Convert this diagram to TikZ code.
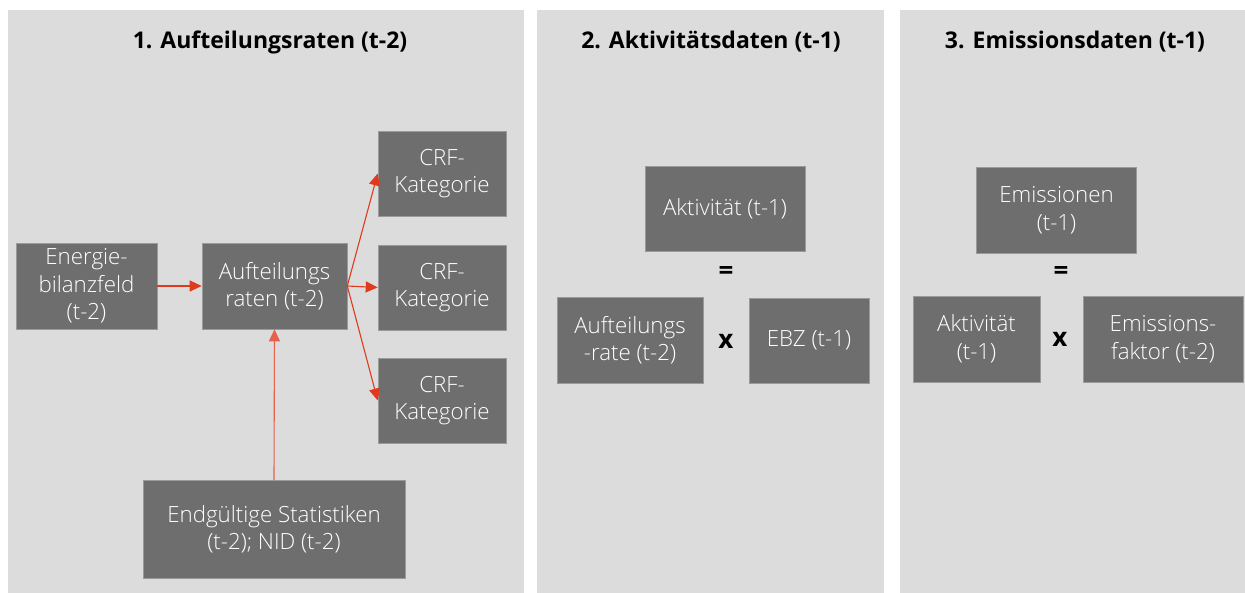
\documentclass[tikz,border=0pt]{standalone}
\usepackage{fontspec}
\setmainfont{Open Sans}[UprightFont=* Light, BoldFont=* Bold]
\usetikzlibrary{arrows.meta}
\definecolor{panelbg}{HTML}{DCDCDC}
\definecolor{boxfill}{HTML}{6E6E6E}
\definecolor{boxedge}{HTML}{9A9A9A}
\definecolor{arrred}{HTML}{E03A1E}
\tikzset{
  panel/.style={fill=panelbg, draw=none},
  gbox/.style={fill=boxfill, draw=boxedge, line width=0.6pt, text=white, align=center, inner sep=0pt,
    font=\fontsize{22.3}{27.5}\selectfont},
  ptitle/.style={font=\fontsize{23}{26}\selectfont\bfseries, text=black},
  opsym/.style={font=\fontsize{26}{27}\selectfont\bfseries, text=black},
  conn/.style={draw=arrred, line width=1.1pt, -{Triangle[length=12pt,width=11pt]}},
}
\begin{document}
\begin{tikzpicture}[x=1pt,y=-1pt]
\useasboundingbox (0,0) rectangle (1245,593);
\fill[white] (0,0) rectangle (1245,593);
% panels
\fill[panel] (8,10) rectangle (524,593);
\fill[panel] (537,10) rectangle (884,593);
\fill[panel] (900,10) rectangle (1245,593);
% titles
\node[ptitle] (t1) at (270,42) {1. Aufteilungsraten (t-2)};
\node[ptitle] (t2) at (711,42) {2. Aktivitätsdaten (t-1)};
\node[ptitle] (t3) at (1075,42) {3. Emissionsdaten (t-1)};
% panel 1
\node[gbox, minimum width=141pt, minimum height=86pt] (en) at (86.5,286) {Energie-\\bilanzfeld\\(t-2)};
\node[gbox, minimum width=145pt, minimum height=86pt] (auf) at (274.5,286) {Aufteilungs\\raten (t-2)};
\node[gbox, minimum width=128pt, minimum height=85pt] (crf1) at (442,173.5) {CRF-\\Kategorie};
\node[gbox, minimum width=128pt, minimum height=85pt] (crf2) at (442,287.5) {CRF-\\Kategorie};
\node[gbox, minimum width=128pt, minimum height=85pt] (crf3) at (442,400.5) {CRF-\\Kategorie};
\node[gbox, minimum width=262pt, minimum height=98pt] (end) at (274,529.5) {Endgültige Statistiken\\(t-2); NID (t-2)};
\draw[conn] (en.east) -- (auf.west);
\draw[conn] (auf.east) -- (crf1.west);
\draw[conn] (auf.east) -- (crf2.west);
\draw[conn] (auf.east) -- (crf3.west);
\draw[conn, draw=arrred!80!white] (end.north) -- (auf.south);
% panel 2
\node[gbox, minimum width=160pt, minimum height=85pt] (akt) at (725,208.5) {Aktivität (t-1)};
\node[opsym] (eq1) at (726,273) {=};
\node[gbox, minimum width=146pt, minimum height=86pt] (aufr) at (630,340) {Aufteilungs\\-rate (t-2)};
\node[opsym] (x1) at (726,341) {x};
\node[gbox, minimum width=120pt, minimum height=85pt] (ebz) at (809,340.5) {EBZ (t-1)};
% panel 3
\node[gbox, minimum width=160pt, minimum height=86pt] (emi) at (1056.5,210) {Emissionen\\(t-1)};
\node[opsym] (eq2) at (1061,273) {=};
\node[gbox, minimum width=127pt, minimum height=86pt] (akt2) at (976.5,339) {Aktivität\\(t-1)};
\node[opsym] (x2) at (1060,339) {x};
\node[gbox, minimum width=160pt, minimum height=86pt] (ef) at (1163,339) {Emissions-\\faktor (t-2)};
\end{tikzpicture}
\end{document}
